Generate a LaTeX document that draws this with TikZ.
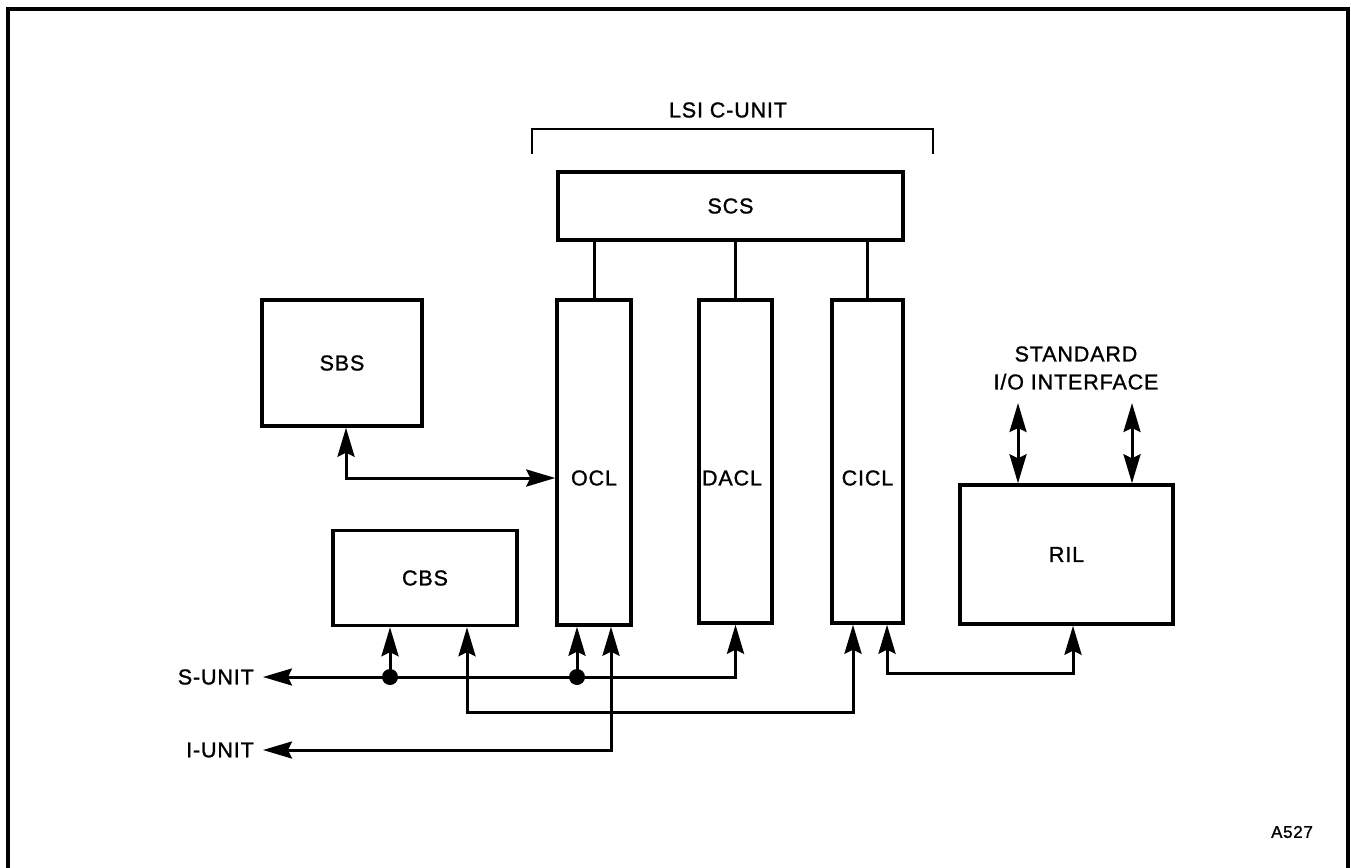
\documentclass[tikz,border=0pt]{standalone}
\usepackage{fontspec}
\setmainfont{Liberation Sans}[LetterSpace=4, FakeBold=1.2]
\usetikzlibrary{arrows.meta,calc}
\begin{document}
\begin{tikzpicture}[x=1pt,y=-1pt,
  box/.style={draw, line width=3.4pt, inner sep=0pt, font=\fontsize{21.5}{25}\selectfont},
  lbl/.style={font=\fontsize{21.5}{25}\selectfont, inner sep=0pt},
  conn/.style={line width=3pt},
  tip/.tip={Stealth[length=29pt,width=17pt,inset=4pt]},
  arr/.style={conn, -tip},
  dbl/.style={conn, tip-tip},
  dot/.style={circle, fill, inner sep=0pt, minimum size=16pt}
]
\clip (0,0) rectangle (1351,867);
\fill[white] (0,0) rectangle (1351,867);
% frame
\draw[line width=3.4pt] (8,9) rectangle (1348,900);

% bracket and title
\draw[line width=2.8pt] (532,154) -- (532,129) -- (933,129) -- (933,154);
\node[lbl] (title) at (728,110) {LSI C-UNIT};

% boxes
\node[box, minimum width=345pt, minimum height=68pt] (scs) at (730.5,206) {SCS};
\node[box, minimum width=74pt, minimum height=325pt] (ocl) at (594,462.5) {};
\node[box, minimum width=73pt, minimum height=323pt] (dacl) at (735.5,461.5) {};
\node[box, minimum width=71pt, minimum height=323pt] (cicl) at (867.5,461.5) {};
\node[lbl] (ocltxt) at (594,478) {OCL};
\node[lbl] (dacltxt) at (732,478) {DACL};
\node[lbl] (cicltxt) at (867.5,478) {CICL};
\node[box, minimum width=160pt, minimum height=126pt] (sbs) at (342,363) {SBS};
\node[box, minimum width=184pt, minimum height=95pt] (cbs) at (425,578) {CBS};
\node[box, minimum width=213pt, minimum height=139pt] (ril) at (1066.5,554.5) {RIL};

% SCS links
\draw[conn] (ocl.north) -- (ocl.north |- scs.south);
\draw[conn] (dacl.north) -- (dacl.north |- scs.south);
\draw[conn] (cicl.north) -- (cicl.north |- scs.south);

% SBS <-> OCL
\coordinate (sbsx) at (346,478);
\draw[dbl] (sbs.south -| sbsx) -- (sbsx) -- (ocl.west |- sbsx);

% standard I/O interface
\node[lbl, align=center] (std) at (1076,368) {STANDARD\\[3pt]I/O INTERFACE};
\coordinate (io1) at (1018,403);
\coordinate (io2) at (1132,403);
\draw[dbl] (io1) -- (ril.north -| io1);
\draw[dbl] (io2) -- (ril.north -| io2);

% S-UNIT bus
\coordinate (sunit) at (263,677);
\node[lbl, anchor=east] (sunittxt) at (254,677) {S-UNIT};
\draw[dbl] (sunit) -| (dacl.south);
\node[dot] (j1) at (390,677) {};
\node[dot] (j2) at (577,677) {};
\draw[arr] (j1.center) -- (cbs.south -| j1);
\draw[arr] (j2.center) -- (ocl.south -| j2);

% CBS <-> CICL
\coordinate (c1) at (467,712);
\coordinate (c2) at (853,712);
\draw[dbl] (cbs.south -| c1) -- (c1) -- (c2) -- (cicl.south -| c2);

% I-UNIT
\coordinate (iunit) at (263,750);
\coordinate (i2) at (611,750);
\node[lbl, anchor=east] (iunittxt) at (254,750) {I-UNIT};
\draw[dbl] (iunit) -- (i2) -- (ocl.south -| i2);

% CICL <-> RIL
\coordinate (r1) at (887,673);
\coordinate (r2) at (1073,673);
\draw[dbl] (cicl.south -| r1) -- (r1) -- (r2) -- (ril.south -| r2);

% figure number
\node[font=\fontsize{17}{20}\selectfont, inner sep=0pt] (fig) at (1292,832) {A527};
\end{tikzpicture}
\end{document}
